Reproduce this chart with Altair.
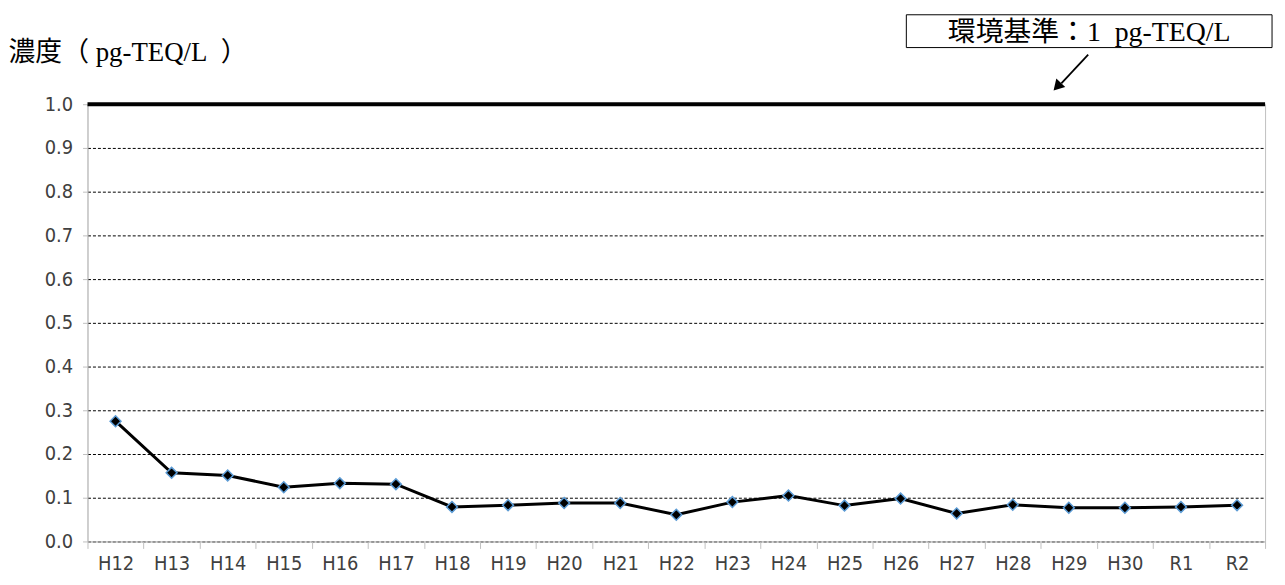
import altair as alt
import pandas as pd

years = ["H12", "H13", "H14", "H15", "H16", "H17", "H18", "H19", "H20", "H21",
         "H22", "H23", "H24", "H25", "H26", "H27", "H28", "H29", "H30", "R1", "R2"]
values = [0.275, 0.157, 0.151, 0.124, 0.133, 0.131, 0.079, 0.083, 0.088, 0.088,
          0.061, 0.090, 0.105, 0.082, 0.098, 0.064, 0.084, 0.077, 0.077, 0.079, 0.083]
standard = [1.0]
y_title = "濃度（\u00a0pg-TEQ/L\u00a0\u00a0）"
note = "環境基準：1\u00a0\u00a0pg-TEQ/L"

df = pd.DataFrame({"year": years, "value": values})
LABEL_FONT = "DejaVu Sans Condensed, Liberation Sans Narrow, sans-serif"
SERIF = "Liberation Serif, Noto Sans CJK JP, serif"

x_enc = alt.X("year:N", sort=years, title=None,
              scale=alt.Scale(type="band", paddingInner=0, paddingOuter=0),
              axis=alt.Axis(labelAngle=0, labelFont=LABEL_FONT, labelFontSize=20,
                            labelColor="#404040", labelPadding=5, tickBand="extent",
                            tickColor="#bfbfbf", tickSize=7, domainColor="#bfbfbf",
                            grid=False, zindex=1))
y_enc = alt.Y("value:Q", title=y_title,
              scale=alt.Scale(domain=[0, 1], nice=False),
              axis=alt.Axis(values=[round(i * 0.1, 1) for i in range(11)], format=".1f",
                            labelFont=LABEL_FONT, labelFontSize=20, labelColor="#404040",
                            labelPadding=10, tickColor="#bfbfbf", tickSize=5,
                            domainColor="#bfbfbf", grid=True, gridColor="#000000",
                            gridDash=[3, 2], gridWidth=1,
                            titleAngle=0, titleAlign="left", titleBaseline="middle",
                            titleX=-80, titleY=-52, titleFont=SERIF, titleFontSize=27,
                            titleFontWeight="normal", titleColor="#000000"))

base = alt.Chart(df)
line = base.mark_line(color="#000000", strokeWidth=3).encode(x=x_enc, y=y_enc)
pts = base.mark_point(shape="diamond", filled=True, fill="#000000", stroke="#5b9bd5",
                      strokeWidth=1.5, size=120, opacity=1).encode(x=x_enc, y="value:Q")

std = alt.Chart(pd.DataFrame({"s": standard})).mark_rule(
    color="#000000", strokeWidth=4).encode(y="s:Q")

one = pd.DataFrame({"a": [0]})
box = alt.Chart(one).mark_rect(fill="white", stroke="#000000", strokeWidth=1).encode(
    x=alt.value(824), x2=alt.value(1192), y=alt.value(-90), y2=alt.value(-57))
txt = alt.Chart(one).mark_text(text=note, font=SERIF, fontSize=28, color="#000000",
                               align="center", baseline="middle").encode(
    x=alt.value(1008), y=alt.value(-72))
arrow = alt.Chart(one).mark_rule(color="#000000", strokeWidth=1.8).encode(
    x=alt.value(1007), x2=alt.value(980), y=alt.value(-50), y2=alt.value(-21))
head = alt.Chart(one).mark_point(shape="triangle", filled=True, fill="#000000",
                                 size=150, angle=223, opacity=1).encode(
    x=alt.value(977), y=alt.value(-19))

chart = alt.layer(line, pts, std, box, txt, arrow, head).properties(
    width=1185, height=440,
    autosize=alt.AutoSizeParams(type="none"),
    padding={"left": 80, "top": 95, "right": 12, "bottom": 42},
).configure_view(stroke="#bfbfbf", strokeWidth=1)

chart.save("out.html", embed_options={"renderer": "svg", "actions": False})
